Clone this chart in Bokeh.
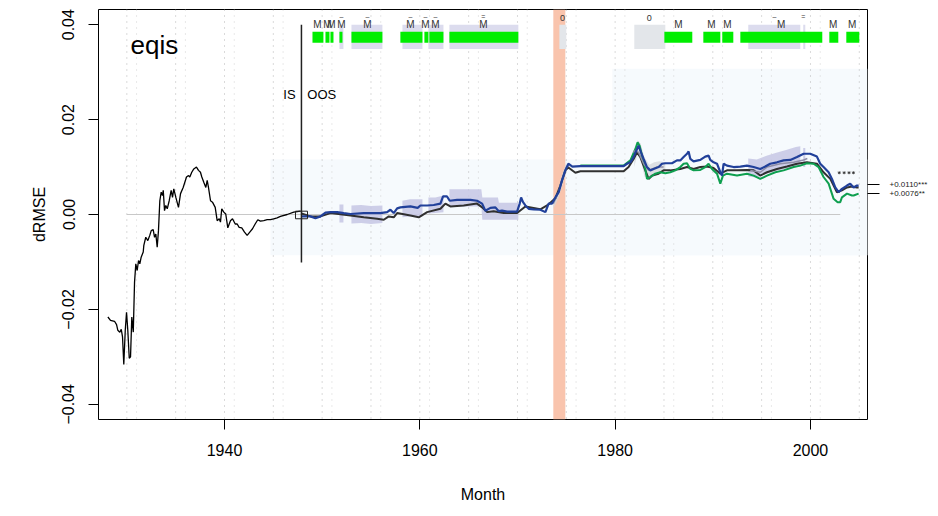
from bokeh.plotting import figure
from bokeh.models import BoxAnnotation, Span, FixedTicker, LinearAxis, Range1d
from bokeh.core.properties import value
from bokeh.embed import file_html
from bokeh.resources import INLINE

FONT = "Liberation Sans"

# ---------------- data ----------------
x_ticks = [1940, 1960, 1980, 2000]
y_ticks = [-0.04, -0.02, 0.0, 0.02, 0.04]
y_tick_labels = ["\u22120.04", "\u22120.02", "0.00", "0.02", "0.04"]

# in-sample black line
is_year = [1928.06, 1928.33, 1928.74, 1928.95, 1929.08, 1929.28, 1929.43, 1929.56, 1929.69, 1929.84,
           1929.97, 1930.10, 1930.25, 1930.38, 1930.51, 1930.66, 1930.79, 1930.92, 1931.06, 1931.20,
           1931.33, 1931.47, 1931.68, 1931.74, 1931.94, 1932.15, 1932.35, 1932.50, 1932.70, 1932.84,
           1932.97, 1933.11, 1933.24, 1933.38, 1933.52, 1933.65, 1933.73, 1933.86, 1933.99, 1934.14,
           1934.34, 1934.54, 1934.68, 1934.81, 1935.02, 1935.29, 1935.50, 1935.77, 1936.11, 1936.32,
           1936.45, 1936.65, 1936.86, 1937.13, 1937.34, 1937.54, 1937.68, 1937.88, 1938.09, 1938.23,
           1938.36, 1938.57, 1938.77, 1939.05, 1939.25, 1939.46, 1939.59, 1939.72, 1939.93, 1940.13,
           1940.34, 1940.61, 1940.82, 1941.10, 1941.30, 1941.50, 1941.77, 1942.05, 1942.32, 1942.59,
           1942.87, 1943.14, 1943.41, 1943.68, 1944.02, 1944.37, 1944.71, 1945.05, 1945.39, 1945.73,
           1946.42, 1947.09, 1947.78]
is_val = [-0.0216, -0.0223, -0.0225, -0.0232, -0.0244, -0.0248, -0.0242, -0.0258, -0.0316, -0.0244,
          -0.0206, -0.0244, -0.0303, -0.0300, -0.0216, -0.0248, -0.0143, -0.0104, -0.0118, -0.0097,
          -0.0104, -0.0090, -0.0079, -0.0065, -0.0048, -0.0055, -0.0044, -0.0034, -0.0032, -0.0048,
          -0.0041, -0.0069, -0.0034, 0.0029, 0.0047, 0.0040, 0.0051, 0.0008, 0.0019, 0.0012,
          0.0029, 0.0051, 0.0036, 0.0054, 0.0036, 0.0015, 0.0044, 0.0057, 0.0079, 0.0082,
          0.0079, 0.0089, 0.0096, 0.0100, 0.0093, 0.0089, 0.0079, 0.0068, 0.0057, 0.0072,
          0.0057, 0.0029, 0.0026, 0.0015, -0.0013, -0.0009, -0.0016, 0.0012, 0.0005, 0.0001,
          -0.0028, -0.0013, -0.0009, -0.0020, -0.0020, -0.0027, -0.0028, -0.0037, -0.0044, -0.0037,
          -0.0030, -0.0020, -0.0011, -0.0014, -0.0013, -0.0011, -0.0011, -0.0009, -0.0007, -0.0004,
          0.0000, 0.0005, 0.0007]

# out-of-sample black (benchmark) line
oos_year = [1947.88, 1948.80, 1949.83, 1950.85, 1952.90, 1954.26, 1955.63, 1956.31, 1956.82, 1957.33,
            1957.68, 1959.04, 1959.89, 1960.75, 1962.11, 1962.62, 1963.13, 1964.49, 1965.86, 1966.38,
            1966.89, 1967.56, 1968.59, 1969.96, 1970.81, 1972.34, 1973.16, 1973.88, 1974.39, 1974.90,
            1975.21, 1975.93, 1976.44, 1980.87, 1981.38, 1981.89, 1982.24, 1982.58, 1983.09, 1983.43,
            1983.78, 1984.45, 1984.96, 1985.65, 1986.67, 1987.36, 1988.03, 1988.72, 1989.41, 1990.08,
            1990.77, 1991.45, 1992.48, 1993.50, 1994.18, 1994.86, 1995.55, 1996.57, 1997.59, 1998.62,
            1999.64, 2000.66, 2001.34, 2002.03, 2002.71, 2003.22, 2003.74, 2004.25, 2004.76, 2004.93]
oos_val = [0.0002, -0.0004, -0.0004, 0.0003, -0.0002, -0.0006, -0.0009, -0.0011, -0.0004, -0.0006,
           0.0003, -0.0002, -0.0006, 0.0005, 0.0012, 0.0023, 0.0017, 0.0019, 0.0023, 0.0015,
           0.0005, 0.0007, 0.0003, 0.0003, 0.0017, 0.0011, 0.0021, 0.0034, 0.0061, 0.0093,
           0.0099, 0.0088, 0.0091, 0.0091, 0.0100, 0.0117, 0.0131, 0.0121, 0.0093, 0.0075,
           0.0082, 0.0086, 0.0093, 0.0093, 0.0096, 0.0100, 0.0096, 0.0100, 0.0101, 0.0098,
           0.0086, 0.0093, 0.0093, 0.0094, 0.0093, 0.0082, 0.0089, 0.0096, 0.0101, 0.0107,
           0.0110, 0.0107, 0.0089, 0.0075, 0.0047, 0.0051, 0.0057, 0.0059, 0.0057, 0.0057]

# blue line
blue_year = [1947.88, 1948.80, 1949.31, 1949.83, 1950.34, 1950.85, 1951.54, 1952.21, 1952.90, 1954.26,
             1955.97, 1956.65, 1956.99, 1957.33, 1957.68, 1958.01, 1959.04, 1959.78, 1960.06, 1960.75,
             1961.42, 1962.11, 1962.38, 1962.79, 1963.06, 1963.82, 1965.18, 1965.86, 1966.38, 1966.71,
             1967.23, 1967.74, 1968.08, 1968.42, 1968.94, 1969.96, 1970.23, 1970.37, 1970.57, 1970.81,
             1971.15, 1971.66, 1972.34, 1972.86, 1973.19, 1973.54, 1973.88, 1974.22, 1974.56, 1974.90,
             1975.21, 1975.62, 1976.44, 1980.87, 1981.22, 1981.56, 1981.89, 1982.17, 1982.40, 1982.65,
             1982.92, 1983.26, 1983.60, 1983.94, 1984.45, 1984.80, 1985.14, 1985.82, 1986.33, 1986.67,
             1987.01, 1987.36, 1987.52, 1987.70, 1988.03, 1988.72, 1989.23, 1989.57, 1989.74, 1990.08,
             1990.43, 1990.77, 1990.94, 1991.11, 1991.45, 1992.13, 1992.82, 1993.50, 1994.18, 1994.86,
             1995.37, 1995.88, 1996.57, 1997.25, 1997.94, 1998.62, 1999.30, 1999.98, 2000.66, 2001.00,
             2001.34, 2001.86, 2002.20, 2002.54, 2002.88, 2003.22, 2003.74, 2004.07, 2004.42, 2004.76,
             2004.93]
blue_val = [-0.0004, -0.0004, -0.0008, -0.0004, 0.0004, 0.0005, 0.0005, 0.0003, 0.0001, 0.0003,
            0.0003, 0.0005, 0.0010, 0.0003, 0.0013, 0.0015, 0.0017, 0.0014, 0.0019, 0.0019,
            0.0020, 0.0023, 0.0038, 0.0038, 0.0029, 0.0031, 0.0031, 0.0029, 0.0023, 0.0008,
            0.0014, 0.0015, 0.0007, 0.0008, 0.0006, 0.0006, 0.0023, 0.0036, 0.0026, 0.0019,
            0.0012, 0.0011, 0.0010, 0.0005, 0.0023, 0.0023, 0.0036, 0.0047, 0.0072, 0.0093,
            0.0107, 0.0101, 0.0102, 0.0102, 0.0107, 0.0110, 0.0121, 0.0135, 0.0145, 0.0131,
            0.0117, 0.0100, 0.0093, 0.0096, 0.0100, 0.0107, 0.0108, 0.0108, 0.0114, 0.0114,
            0.0121, 0.0128, 0.0133, 0.0117, 0.0112, 0.0115, 0.0122, 0.0124, 0.0115, 0.0110,
            0.0107, 0.0089, 0.0082, 0.0107, 0.0103, 0.0100, 0.0101, 0.0103, 0.0100, 0.0096,
            0.0101, 0.0107, 0.0110, 0.0114, 0.0115, 0.0121, 0.0128, 0.0128, 0.0122, 0.0107,
            0.0100, 0.0089, 0.0075, 0.0057, 0.0047, 0.0054, 0.0061, 0.0065, 0.0057, 0.0061,
            0.0061]

# green line
green_year = [1976.44, 1980.87, 1981.56, 1982.07, 1982.30, 1982.51, 1982.76, 1983.09, 1983.26, 1983.60,
              1984.11, 1984.62, 1985.14, 1985.65, 1986.16, 1986.67, 1987.01, 1987.36, 1987.70, 1988.03,
              1988.72, 1989.23, 1989.57, 1989.92, 1990.43, 1990.77, 1991.04, 1991.45, 1992.48, 1993.50,
              1994.18, 1994.86, 1995.55, 1996.40, 1997.25, 1998.28, 1998.96, 1999.64, 2000.32, 2000.83,
              2001.34, 2001.86, 2002.37, 2002.78, 2003.05, 2003.22, 2003.74, 2004.25, 2004.42, 2004.93]
green_val = [0.0103, 0.0103, 0.0114, 0.0138, 0.0152, 0.0145, 0.0124, 0.0096, 0.0075, 0.0079,
             0.0086, 0.0089, 0.0087, 0.0089, 0.0093, 0.0100, 0.0107, 0.0108, 0.0096, 0.0093,
             0.0094, 0.0100, 0.0107, 0.0096, 0.0086, 0.0065, 0.0082, 0.0086, 0.0082, 0.0086,
             0.0082, 0.0075, 0.0082, 0.0089, 0.0093, 0.0100, 0.0103, 0.0108, 0.0107, 0.0100,
             0.0079, 0.0065, 0.0033, 0.0026, 0.0026, 0.0036, 0.0044, 0.0040, 0.0040, 0.0044]

# grey (mean) line segments
grey_years = [[1973.67, 1974.19, 1974.60, 1975.00, 1975.30],
              [1981.86, 1982.07, 1982.40, 1982.92, 1983.43, 1984.29, 1984.96],
              [1993.84, 1994.86, 1995.55, 1996.91, 1998.28, 1999.30, 1999.68]]
grey_vals = [[0.0023, 0.0046, 0.0076, 0.0099, 0.0103],
             [0.0131, 0.0135, 0.0131, 0.0107, 0.0093, 0.0100, 0.0100],
             [0.0093, 0.0089, 0.0100, 0.0107, 0.0110, 0.0115, 0.0118]]

# lavender confidence bands
lav_band_x = [[1951.77, 1952.18],
              [1953.00, 1954.00, 1955.00, 1956.17],
              [1958.22, 1959.00, 1960.27],
              [1960.88, 1961.60, 1962.42],
              [1963.03, 1964.50, 1966.30, 1966.40, 1968.00, 1968.10, 1970.09],
              [1993.63, 1994.50, 1995.50, 1996.50, 1997.50, 1998.50, 1998.96],
              [1999.26, 1999.47]]
lav_band_lo = [[-0.0017, -0.0017],
               [-0.0019, -0.0018, -0.0020, -0.0018],
               [-0.0006, -0.0004, -0.0004],
               [0.0002, 0.0003, 0.0005],
               [0.0017, 0.0017, 0.0017, -0.0011, -0.0011, -0.0011, -0.0011],
               [0.0080, 0.0078, 0.0086, 0.0092, 0.0096, 0.0100, 0.0100],
               [0.0100, 0.0100]]
lav_band_hi = [[0.0021, 0.0021],
               [0.0019, 0.0020, 0.0018, 0.0019],
               [0.0029, 0.0032, 0.0032],
               [0.0036, 0.0036, 0.0040],
               [0.0053, 0.0053, 0.0053, 0.0036, 0.0036, 0.0025, 0.0025],
               [0.0118, 0.0116, 0.0124, 0.0130, 0.0136, 0.0142, 0.0144],
               [0.0140, 0.0140]]

# grey confidence bands
grey_band_x = [[1973.67, 1974.20, 1974.60, 1975.00],
               [1981.96, 1982.30, 1982.60, 1983.00, 1983.50, 1984.00, 1984.50, 1985.14]]
grey_band_lo = [[0.0012, 0.0035, 0.0062, 0.0088],
                [0.0100, 0.0130, 0.0120, 0.0080, 0.0075, 0.0080, 0.0088, 0.0090]]
grey_band_hi = [[0.0032, 0.0056, 0.0086, 0.0110],
                [0.0125, 0.0156, 0.0150, 0.0120, 0.0105, 0.0110, 0.0112, 0.0110]]

# top indicator strip
green_bar_start = [1949.01, 1950.34, 1950.85, 1951.77, 1953.00, 1958.01, 1960.47, 1960.98, 1963.03,
                   1985.04, 1989.03, 1990.97, 1992.82, 2001.93, 2003.67]
green_bar_end = [1950.13, 1950.75, 1951.16, 1952.08, 1956.17, 1960.27, 1960.88, 1962.42, 1970.09,
                 1987.90, 1990.77, 1992.10, 2001.21, 2002.85, 2005.00]
lav_box_start = [1951.77, 1953.00, 1958.22, 1960.88, 1963.03, 1993.63, 1999.26]
lav_box_end = [1952.18, 1956.17, 1960.27, 1962.42, 1970.09, 1998.96, 1999.47]
grey_box_start = [1974.29, 1981.96]
grey_box_end = [1975.00, 1985.14]
strip_green = (0.0362, 0.0385)
strip_box = (0.0349, 0.0400)

m_label_year = [1949.52, 1950.54, 1950.95, 1951.98, 1954.64, 1959.04, 1960.57, 1961.60, 1966.51,
                1986.47, 1989.85, 1991.49, 1997.00, 2002.32, 2004.27]
zero_label_year = [1974.60, 1983.50]
dash_year = [1951.98, 1954.64, 1959.04, 1960.57, 1961.60, 1966.51, 1996.30, 1999.27]
dash_text = ["\u2013", "\u2013", "\u2013", "\u2013", "\u2013", "=", "\u2013", "="]

# recession band, in-sample / out-of-sample split
recession = (1973.67, 1974.90)
split_year = 1947.88
split_line = (-0.0101, 0.0400)
split_box = (1947.27, 1948.50, -0.0009, 0.0007)

# pale background regions (left, top, bottom)
pale_regions = [(1944.71, 0.0116, -0.0086), (1979.71, 0.0307, -0.0086)]

# dotted guides
guide_major = [1930 + 5 * k for k in range(16)]
guide_minor = [1931 + 5 * k for k in range(15)]

zero_line = (1930.0, 2003.05)
star_year = [2002.95, 2003.45, 2003.95, 2004.40]
star_val = [0.0088, 0.0088, 0.0088, 0.0088]

stat_y = [0.0063, 0.0044]
stat_labels = ["+0.0110***", "+0.0076**"]

X_START, X_END = 1927.10, 2005.84
Y_START, Y_END = -0.0432, 0.0432

# ---------------- figure ----------------
p = figure(width=938, height=516, output_backend="svg", toolbar_location=None,
           x_range=Range1d(X_START, X_END), y_range=Range1d(Y_START, Y_END),
           min_border_left=98, min_border_right=71, min_border_top=9, min_border_bottom=97)
p.title.visible = False
p.background_fill_color = "white"
p.border_fill_color = "white"
p.outline_line_color = "black"
p.outline_line_width = 1
p.outline_line_alpha = 1
p.xgrid.visible = False
p.ygrid.visible = False

xa = p.xaxis[0]
xa.ticker = FixedTicker(ticks=x_ticks)
xa.axis_label = "Month"
for ax in (xa, p.yaxis[0]):
    ax.axis_label_text_font = FONT
    ax.axis_label_text_font_style = "normal"
    ax.axis_label_text_font_size = "16px"
    ax.axis_label_text_color = "black"
    ax.major_label_text_font = FONT
    ax.major_label_text_font_size = "16px"
    ax.major_label_text_color = "black"
    ax.major_tick_out = 10
    ax.major_tick_in = 0
    ax.minor_tick_out = 0
    ax.minor_tick_in = 0
    ax.major_tick_line_color = "black"
    ax.axis_line_color = None
xa.major_label_standoff = 14
xa.axis_label_standoff = 27

ya = p.yaxis[0]
ya.ticker = FixedTicker(ticks=y_ticks)
ya.major_label_overrides = {t: s for t, s in zip(y_ticks, y_tick_labels)}
ya.major_label_orientation = "vertical"
ya.major_label_standoff = 14
ya.axis_label = "dRMSE"
ya.axis_label_standoff = 12

ra = LinearAxis(ticker=FixedTicker(ticks=stat_y),
                major_label_overrides={t: s for t, s in zip(stat_y, stat_labels)},
                major_label_text_font=FONT, major_label_text_font_size="8px",
                major_label_text_color="#222222",
                major_tick_out=12, major_tick_in=0, minor_tick_out=0, minor_tick_in=0,
                major_label_standoff=10, axis_line_color=None)
p.add_layout(ra, "right")

# backgrounds
for left, top, bottom in pale_regions:
    p.add_layout(BoxAnnotation(left=left, top=top, bottom=bottom, fill_color="#F6FAFD",
                               fill_alpha=1, line_color=None, level="underlay"))
p.add_layout(BoxAnnotation(left=recession[0], right=recession[1], fill_color="#F9C4AD",
                           fill_alpha=1, line_color=None, level="underlay"))
for g in guide_major:
    p.add_layout(Span(location=g, dimension="height", line_color="#B5B5B5",
                      line_width=1, line_dash="1 5", level="underlay"))
for g in guide_minor:
    p.add_layout(Span(location=g, dimension="height", line_color="#D2D2D2",
                      line_width=1, line_dash="1 5", level="underlay"))

p.segment(x0=[zero_line[0]], y0=[0], x1=[zero_line[1]], y1=[0], line_color="#C8C8C8", line_width=1.2)

# bands
for bx, lo, hi in zip(grey_band_x, grey_band_lo, grey_band_hi):
    p.varea(x=bx, y1=lo, y2=hi, fill_color="#D6D8DC", fill_alpha=0.8)
for bx, lo, hi in zip(lav_band_x, lav_band_lo, lav_band_hi):
    p.varea(x=bx, y1=lo, y2=hi, fill_color="#C5C6E4", fill_alpha=0.85)

# lines
p.line(is_year, is_val, line_color="black", line_width=1.3)
p.line(oos_year, oos_val, line_color="#303030", line_width=2)
p.line(green_year, green_val, line_color="#0E9F4F", line_width=2)
for gx, gv in zip(grey_years, grey_vals):
    p.line(gx, gv, line_color="#8E8EA6", line_width=1.5)
p.line(blue_year, blue_val, line_color="#21409A", line_width=2.2)
p.scatter(star_year, star_val, marker="asterisk", size=3, line_color="#333333", line_width=0.8)

# split
p.segment(x0=[split_year], y0=[split_line[0]], x1=[split_year], y1=[split_line[1]],
          line_color="#222222", line_width=1.5)
p.quad(left=[split_box[0]], right=[split_box[1]], bottom=[split_box[2]], top=[split_box[3]],
       fill_color=None, line_color="#222222", line_width=1)
p.text(x=[split_year - 0.6], y=[0.0253], text=["IS"], text_align="right", text_baseline="middle",
       text_font=value(FONT), text_font_size="13px", text_color="black")
p.text(x=[split_year + 0.6], y=[0.0253], text=["OOS"], text_align="left", text_baseline="middle",
       text_font=value(FONT), text_font_size="13px", text_color="black")

# top strip
p.quad(left=lav_box_start, right=lav_box_end, bottom=strip_box[0], top=strip_box[1],
       fill_color="#DCDCEE", line_color=None)
p.quad(left=grey_box_start, right=grey_box_end, bottom=strip_box[0], top=strip_box[1],
       fill_color="#E3E6EA", line_color=None)
p.quad(left=green_bar_start, right=green_bar_end, bottom=strip_green[0], top=strip_green[1],
       fill_color="#00EE00", line_color=None)
p.text(x=m_label_year, y=[0.0400] * len(m_label_year), text=["M"] * len(m_label_year),
       text_align="center", text_baseline="middle", text_font=value(FONT),
       text_font_size="10px", text_color="#333333")
p.text(x=zero_label_year, y=[0.0414] * len(zero_label_year), text=["0"] * len(zero_label_year),
       text_align="center", text_baseline="middle", text_font=value(FONT),
       text_font_size="9px", text_color="#333333")
p.text(x=dash_year, y=[0.0418] * len(dash_year), text=dash_text,
       text_align="center", text_baseline="middle", text_font=value(FONT),
       text_font_size="7px", text_color="#333333")

# panel label
p.text(x=[1930.38], y=[0.0358], text=["eqis"], text_align="left", text_baseline="alphabetic",
       text_font=value(FONT), text_font_size="26px", text_color="black")

open("out.html", "w").write(file_html(p, INLINE))
